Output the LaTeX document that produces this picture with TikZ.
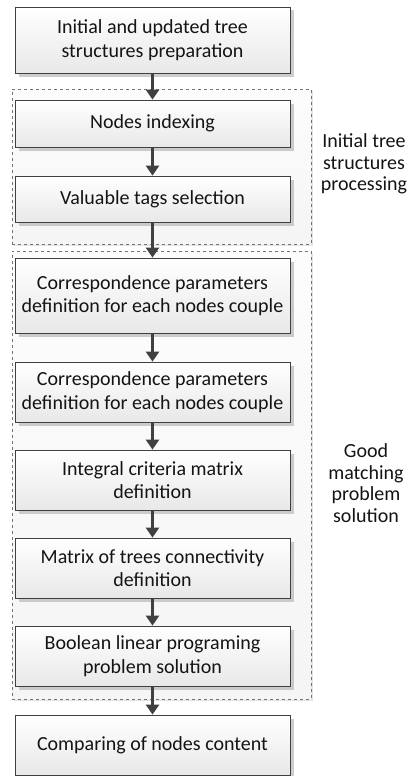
\documentclass[tikz,border=0pt]{standalone}
\usepackage{fontspec}
\setmainfont{Carlito}
\usetikzlibrary{arrows.meta,shadows}
\definecolor{edge}{HTML}{404040}
\definecolor{txt}{HTML}{141414}
\begin{document}
\begin{tikzpicture}[x=1pt,y=-1pt,
  stepbox/.style={draw=edge, line width=0.8pt, top color=white, bottom color=black!9,
    minimum width=275pt, inner sep=0pt, align=center, font=\fontsize{20}{23.5}\selectfont, text=txt,
    drop shadow={shadow xshift=3.5pt, shadow yshift=-3.5pt, fill=black!28, opacity=0.7}},
  grp/.style={draw=black!55, dashed, line width=0.6pt, top color=black!1, bottom color=black!4,
    minimum width=299pt, inner sep=0pt,
    drop shadow={shadow xshift=2pt, shadow yshift=-2pt, fill=black!18, opacity=0.6}},
  lbl/.style={align=center, font=\fontsize{20}{21.5}\selectfont, text=txt, inner sep=0pt},
  flow/.style={draw=edge, line width=3pt, -{Triangle[length=10pt,width=13pt]}}
]
\useasboundingbox (0,0) rectangle (407,776);
% groups
\node[grp, minimum height=155pt] (g1) at (161.5,166.5) {};
\node[grp, minimum height=448pt] (g2) at (161.5,475) {};
% boxes
\node[stepbox, minimum height=66pt] (b1) at (152.5,40) {Initial and updated tree\\structures preparation};
\node[stepbox, minimum height=47pt] (b2) at (152.5,123.5) {Nodes indexing};
\node[stepbox, minimum height=46pt] (b3) at (152.5,199) {Valuable tags selection};
\node[stepbox, minimum height=75pt] (b4) at (152.5,295.5) {Correspondence parameters\\definition for each nodes couple};
\node[stepbox, minimum height=60pt] (b5) at (152.5,392) {Correspondence parameters\\definition for each nodes couple};
\node[stepbox, minimum height=60pt] (b6) at (152.5,480) {Integral criteria matrix\\definition};
\node[stepbox, minimum height=60pt] (b7) at (152.5,568) {Matrix of trees connectivity\\definition};
\node[stepbox, minimum height=60pt] (b8) at (152.5,656) {Boolean linear programing\\problem solution};
\node[stepbox, minimum height=60pt] (b9) at (152.5,745) {Comparing of nodes content};
% labels
\node[lbl] (l1) at (364,164) {Initial tree\\structures\\processing};
\node[lbl] (l2) at (366,483) {Good\\matching\\problem\\solution};
% arrows
\draw[flow] (b1) -- (b2);
\draw[flow] (b2) -- (b3);
\draw[flow] (b3) -- (b4);
\draw[flow] (b4) -- (b5);
\draw[flow] (b5) -- (b6);
\draw[flow] (b6) -- (b7);
\draw[flow] (b7) -- (b8);
\draw[flow] (b8) -- (b9);
\end{tikzpicture}
\end{document}
